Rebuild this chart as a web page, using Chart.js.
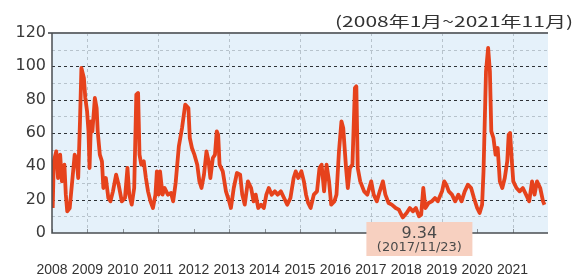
<!DOCTYPE html>
<html lang="ja">
<head>
<meta charset="UTF-8">
<title>Volatility 2008-2021</title>
<style>
    body { margin: 0; background: #fff; }
    canvas { display: block; }
</style>
<script src="https://cdn.jsdelivr.net/npm/chart.js"></script>
</head>
<body>
<canvas id="chart" width="577" height="278"></canvas>
<script>
// x positions as fractional years
const years = [
    2008.02, 2008.05, 2008.12, 2008.17, 2008.23, 2008.28, 2008.35, 2008.39, 2008.43, 2008.50,
    2008.57, 2008.64, 2008.70, 2008.74, 2008.79, 2008.83, 2008.90, 2008.94, 2008.99, 2009.03,
    2009.06, 2009.10, 2009.14, 2009.21, 2009.26, 2009.29, 2009.35, 2009.41, 2009.45, 2009.52,
    2009.59, 2009.65, 2009.72, 2009.81, 2009.88, 2009.97, 2010.06, 2010.13, 2010.18, 2010.25,
    2010.32, 2010.38, 2010.43, 2010.47, 2010.52, 2010.59, 2010.65, 2010.71, 2010.78, 2010.85,
    2010.92, 2010.96, 2011.01, 2011.05, 2011.12, 2011.18, 2011.27, 2011.36, 2011.42, 2011.49,
    2011.58, 2011.67, 2011.76, 2011.85, 2011.89, 2011.95, 2012.02, 2012.10, 2012.16, 2012.22,
    2012.29, 2012.36, 2012.42, 2012.47, 2012.54, 2012.60, 2012.65, 2012.69, 2012.73, 2012.82,
    2012.91, 2013.00, 2013.05, 2013.13, 2013.22, 2013.31, 2013.37, 2013.44, 2013.53, 2013.62,
    2013.69, 2013.75, 2013.82, 2013.90, 2013.98, 2014.05, 2014.12, 2014.20, 2014.29, 2014.37,
    2014.46, 2014.55, 2014.64, 2014.73, 2014.82, 2014.88, 2014.95, 2015.04, 2015.11, 2015.17,
    2015.23, 2015.30, 2015.39, 2015.48, 2015.55, 2015.61, 2015.68, 2015.75, 2015.82, 2015.88,
    2015.97, 2016.03, 2016.10, 2016.17, 2016.22, 2016.30, 2016.35, 2016.41, 2016.48, 2016.55,
    2016.59, 2016.63, 2016.70, 2016.81, 2016.90, 2017.01, 2017.08, 2017.17, 2017.25, 2017.34,
    2017.41, 2017.50, 2017.59, 2017.70, 2017.79, 2017.86, 2017.90, 2018.01, 2018.10, 2018.19,
    2018.27, 2018.36, 2018.42, 2018.48, 2018.54, 2018.63, 2018.72, 2018.81, 2018.89, 2019.01,
    2019.07, 2019.13, 2019.20, 2019.29, 2019.38, 2019.47, 2019.56, 2019.65, 2019.74, 2019.83,
    2019.91, 2020.00, 2020.07, 2020.14, 2020.18, 2020.25, 2020.31, 2020.36, 2020.40, 2020.46,
    2020.52, 2020.58, 2020.64, 2020.71, 2020.78, 2020.85, 2020.89, 2020.93, 2020.98, 2021.02,
    2021.11, 2021.20, 2021.29, 2021.38, 2021.47, 2021.55, 2021.62, 2021.69, 2021.78, 2021.86,
    2021.90
];
const values = [
    15, 43, 49, 33, 47, 31, 41, 23, 13, 15,
    31, 47, 43, 33, 67, 99, 93, 81, 73, 61,
    39, 67, 61, 81, 75, 61, 47, 43, 27, 33,
    21, 19, 25, 35, 29, 19, 21, 39, 23, 17,
    27, 83, 84, 47, 41, 43, 33, 25, 19, 15,
    23, 37, 23, 37, 23, 27, 23, 24, 19, 30,
    52, 63, 77, 75, 57, 51, 47, 41, 31, 27,
    35, 49, 43, 33, 45, 47, 61, 59, 41, 37,
    25, 19, 15, 27, 36, 35, 23, 17, 31, 27,
    19, 23, 15, 17, 15, 23, 27, 23, 25, 23,
    25, 21, 17, 21, 33, 37, 33, 37, 31, 23,
    18, 15, 23, 25, 39, 41, 25, 41, 31, 17,
    19, 23, 49, 67, 63, 39, 27, 39, 41, 87,
    88, 39, 31, 25, 23, 31, 23, 19, 25, 31,
    23, 18, 17, 15, 14, 11, 9.34, 12, 15, 13,
    15, 10, 11, 27, 15, 18, 19, 21, 19, 25,
    31, 29, 25, 23, 19, 23, 19, 25, 29, 27,
    21, 15, 12, 17, 37, 97, 111, 97, 61, 57,
    47, 51, 31, 27, 33, 43, 59, 60, 43, 31,
    27, 25, 27, 23, 19, 31, 23, 31, 27, 19,
    17
];

const xLabels = ['2008', '2009', '2010', '2011', '2012', '2013', '2014',
                 '2015', '2016', '2017', '2018', '2019', '2020', '2021'];
const yLabels = [0, 20, 40, 60, 80, 100, 120];
const majorGrid = [20, 40, 60, 80, 100];
const minorGrid = [10, 30, 50, 70, 90, 110];
const gridYears = [2009, 2011, 2013, 2015, 2017, 2019, 2021];

const period = '(2008年1月~2021年11月)';
const lowValue = '9.34';
const lowDate = '(2017/11/23)';
const lowLabelYear = 2018.37;

const decor = {
    id: 'decor',
    beforeDatasetsDraw(chart) {
        const { ctx, chartArea: a, scales: { x, y } } = chart;
        ctx.save();
        ctx.fillStyle = '#e5f1fa';
        ctx.fillRect(a.left, a.top, a.width, a.height);
        ctx.lineWidth = 1;
        ctx.setLineDash([3, 3]);

        ctx.strokeStyle = '#b7c3cc';
        minorGrid.forEach(v => {
            const py = Math.round(y.getPixelForValue(v)) + 0.5;
            ctx.beginPath(); ctx.moveTo(a.left, py); ctx.lineTo(a.right, py); ctx.stroke();
        });
        gridYears.forEach(t => {
            const px = Math.round(x.getPixelForValue(t)) + 0.5;
            ctx.beginPath(); ctx.moveTo(px, a.top); ctx.lineTo(px, a.bottom); ctx.stroke();
        });

        ctx.strokeStyle = '#2e3236';
        majorGrid.forEach(v => {
            const py = Math.round(y.getPixelForValue(v)) + 0.5;
            ctx.beginPath(); ctx.moveTo(a.left, py); ctx.lineTo(a.right, py); ctx.stroke();
        });

        // small year ticks on the bottom edge
        ctx.setLineDash([]);
        ctx.strokeStyle = '#8a9096';
        xLabels.forEach((_, i) => {
            const px = Math.round(x.getPixelForValue(2008 + i)) + 0.5;
            ctx.beginPath(); ctx.moveTo(px, a.bottom); ctx.lineTo(px, a.bottom - 4); ctx.stroke();
        });
        ctx.restore();
    },
    afterDraw(chart) {
        const { ctx, chartArea: a, scales: { x } } = chart;
        ctx.save();
        // frame
        ctx.strokeStyle = '#6b6f73';
        ctx.lineWidth = 2;
        ctx.beginPath(); ctx.moveTo(a.left - 4, a.top); ctx.lineTo(a.right, a.top); ctx.stroke();
        ctx.strokeStyle = '#4a4e52';
        ctx.lineWidth = 1.5;
        ctx.beginPath(); ctx.moveTo(a.left, a.top); ctx.lineTo(a.left, a.bottom);
        ctx.lineTo(a.right, a.bottom); ctx.stroke();

        // low-point label
        const cx = x.getPixelForValue(lowLabelYear);
        ctx.fillStyle = '#f7d0c0';
        ctx.fillRect(cx - 53, a.bottom - 11, 106, 34);
        ctx.fillStyle = '#4a4a4a';
        ctx.textAlign = 'center';
        ctx.textBaseline = 'middle';
        ctx.font = '16px "DejaVu Sans"';
        ctx.fillText(lowValue, cx, a.bottom + 1);
        ctx.font = '13px "DejaVu Sans"';
        ctx.fillText(lowDate, cx, a.bottom + 15);

        // period note, stretched to the width it has in the picture
        ctx.font = '15px "Noto Sans CJK JP"';
        ctx.fillStyle = '#333';
        ctx.textAlign = 'right';
        const w = ctx.measureText(period).width;
        ctx.translate(573, 21);
        ctx.scale(238 / w, 1);
        ctx.fillText(period, 0, 0);
        ctx.restore();
    }
};

const points = years.map((t, i) => ({ x: t, y: values[i] }));

new Chart(document.getElementById('chart').getContext('2d'), {
    type: 'line',
    data: {
        datasets: [{
            data: points,
            borderColor: '#e6421c',
            borderWidth: 3.8,
            borderJoinStyle: 'round',
            pointRadius: 0,
            tension: 0,
            fill: false
        }]
    },
    options: {
        responsive: false,
        animation: false,
        layout: { padding: { top: 33, left: 0, right: 0, bottom: 0 } },
        plugins: { legend: { display: false }, tooltip: { enabled: false } },
        scales: {
            x: {
                type: 'linear',
                min: 2008,
                max: 2022,
                grid: { display: false, drawTicks: false },
                border: { display: false },
                ticks: {
                    stepSize: 1,
                    autoSkip: false,
                    maxRotation: 0,
                    padding: 29,
                    color: '#333',
                    font: { family: '"Liberation Sans", Arial, sans-serif', size: 14 },
                    callback: v => xLabels[v - 2008] || ''
                },
                afterFit(s) { s.height = 45; }
            },
            y: {
                min: 0,
                max: 120,
                grid: { display: false, drawTicks: false },
                border: { display: false },
                ticks: {
                    stepSize: 20,
                    padding: 6,
                    color: '#3a3a3a',
                    font: { family: '"DejaVu Sans", sans-serif', size: 16 },
                    callback: v => yLabels.includes(v) ? String(v) : ''
                },
                afterFit(s) { s.width = 52; }
            }
        }
    },
    plugins: [decor]
});
</script>
</body>
</html>
